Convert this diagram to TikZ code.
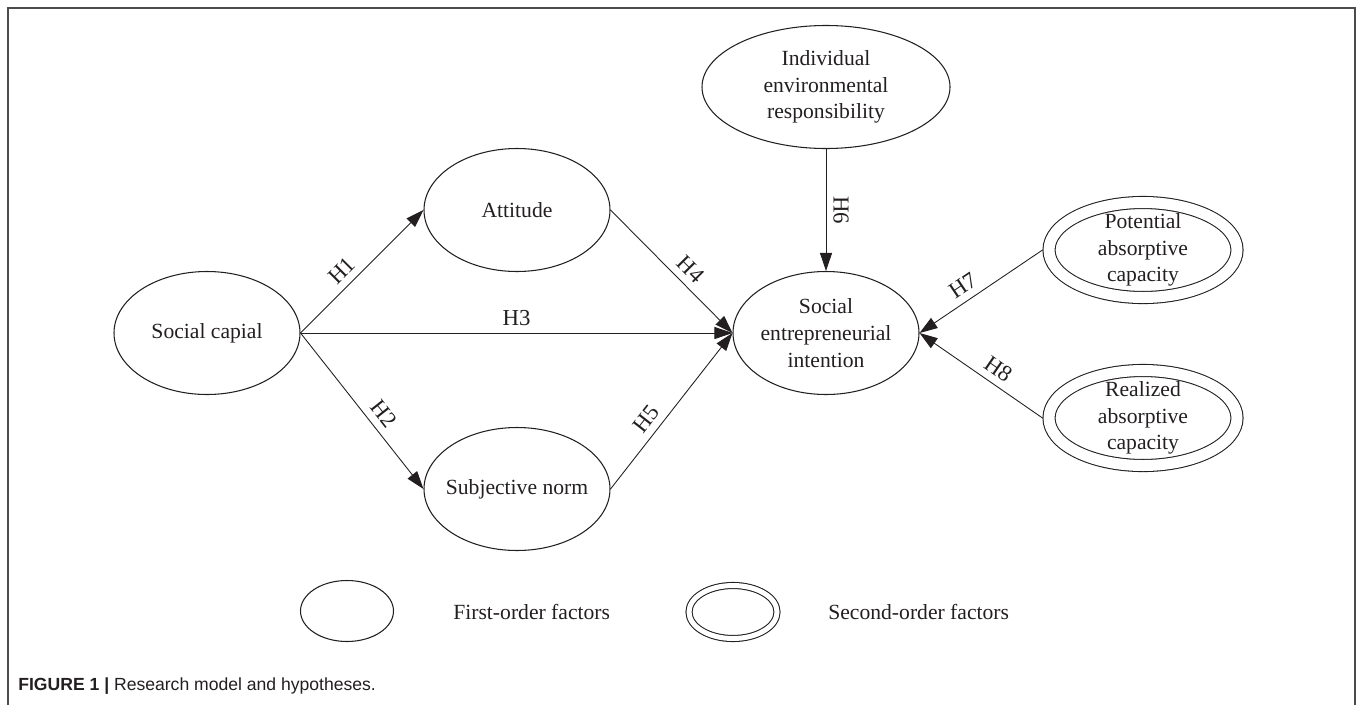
\documentclass[tikz,border=0pt]{standalone}
\usepackage{fontspec}
\setmainfont{Liberation Serif}
\newfontfamily\capfont{Liberation Sans}
\usetikzlibrary{shapes.geometric,arrows.meta}
\definecolor{ink}{HTML}{231F20}

\begin{document}
\begin{tikzpicture}[x=0.2mm, y=-0.2mm, color=ink,
font=\fontsize{12.3}{15.2}\selectfont,
fac/.style={ellipse, draw, line width=0.6pt, align=center, inner sep=-4mm, minimum width=37.2mm, minimum height=24.6mm},
fac2/.style={ellipse, draw, line width=0.6pt, double, double distance=2.2mm, align=center, inner sep=-4mm, minimum width=37.6mm, minimum height=19mm, outer sep=1.3mm},
arr/.style={line width=0.5pt, -{Triangle[length=3.6mm, width=2.4mm]}},
hyp/.style={sloped, above, inner sep=4pt, font=\fontsize{13}{15}\selectfont}]
\useasboundingbox (0,0) rectangle (1357,705);
\draw[black!70, line width=1.2pt] (8,705) -- (8,8) -- (1355,8) -- (1355,705);

% factors
\node[fac] (sc) at (207,333) {Social capial};
\node[fac] (att) at (517,210) {Attitude};
\node[fac] (sub) at (517,489) {Subjective norm};
\node[fac] (sei) at (826,333) {Social\\entrepreneurial\\intention};
\node[fac, minimum width=49.6mm] (ier) at (826,87) {Individual\\environmental\\responsibility};
\node[fac2] (pac) at (1143,250) {Potential\\absorptive\\capacity};
\node[fac2] (rac) at (1143,418) {Realized\\absorptive\\capacity};

% hypotheses
\draw[arr] (sc.east) -- node[hyp, pos=.42] (h1) {H1} (att.west);
\draw[arr] (sc.east) -- node[hyp, pos=.58] (h2) {H2} (sub.west);
\draw[arr] (sc.east) -- node[hyp, pos=.5] (h3) {H3} (sei.west);
\draw[arr] (att.east) -- node[hyp, pos=.57] (h4) {H4} (sei.west);
\draw[arr] (sub.east) -- node[hyp, pos=.39] (h5) {H5} (sei.west);
\draw[arr] (ier.south) -- node[hyp, pos=.5] (h6) {H6} (sei.north);
\draw[arr] (pac.west) -- node[hyp, pos=.58] (h7) {H7} (sei.east);
\draw[arr] (rac.west) -- node[hyp, pos=.43] (h8) {H8} (sei.east);

% legend
\node[fac, minimum width=18.6mm, minimum height=12.2mm] (lg1) at (347,611) {};
\node[anchor=west, inner sep=0pt] (lt1) at (453,612) {First-order factors};
\node[fac2, double distance=1mm, minimum width=17.6mm, minimum height=10.6mm] (lg2) at (733,612) {};
\node[anchor=west, inner sep=0pt] (lt2) at (828,612) {Second-order factors};

\node[anchor=west, inner sep=0pt, font=\capfont\fontsize{10}{12}\selectfont] (cap) at (18,686)
  {\textbf{FIGURE 1 |} Research model and hypotheses.};
\end{tikzpicture}
\end{document}
